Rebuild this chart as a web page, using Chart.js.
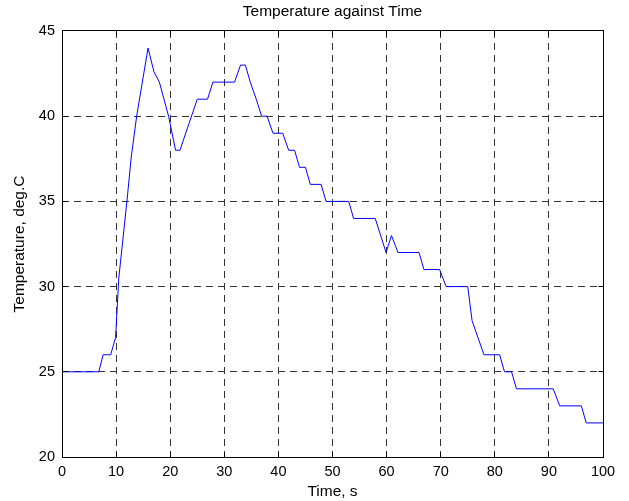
<!DOCTYPE html>
<html>
<head>
<meta charset="utf-8">
<title>Temperature against Time</title>
<script src="https://cdn.jsdelivr.net/npm/chart.js@4/dist/chart.umd.min.js"></script>
<style>
  body { margin: 0; background: #fff; }
  canvas { display: block; }
</style>
</head>
<body>
<canvas id="temp-chart" width="629" height="501"></canvas>
<script>
// time (s) and temperature (deg.C)
const timeValues = [0, 6.8, 7.6, 9.0, 9.9, 10.5, 12.0, 12.8, 13.8, 15.9,
    17.0, 18.0, 19.7, 21.0, 21.8, 25.0, 26.9, 27.9, 31.9, 33.0,
    33.9, 34.8, 35.9, 36.9, 37.9, 39.0, 40.8, 41.9, 43.0, 43.9,
    45.0, 45.9, 47.9, 48.8, 53.0, 53.9, 57.9, 59.9, 60.9, 62.1,
    66.0, 66.9, 69.8, 71.0, 75.0, 75.8, 78.0, 80.9, 81.8, 83.1,
    84.0, 90.8, 92.0, 96.0, 96.9, 100];
const temperatureValues = [25, 25, 26, 26, 27, 30.5, 35, 37.6, 40, 44,
    42.6, 42, 40, 38, 38, 41, 41, 42, 42, 43,
    43, 42, 41, 40, 40, 39, 39, 38, 38, 37,
    37, 36, 36, 35, 35, 34, 34, 32, 33, 32,
    32, 31, 31, 30, 30, 28, 26, 26, 25, 25,
    24, 24, 23, 23, 22, 22];
const xTicks = [0, 10, 20, 30, 40, 50, 60, 70, 80, 90, 100];
const yTicks = [20, 25, 30, 35, 40, 45];

const fontFamily = "'Liberation Sans', Arial, Helvetica, sans-serif";

// MATLAB style box with inward tick marks on all four sides
const boxPlugin = {
    id: 'box',
    afterDraw(chart) {
        const { ctx, chartArea: a, scales } = chart;
        const align = (p) => Math.round(p - 0.5) + 0.5;
        const left = align(a.left), right = align(a.right);
        const top = align(a.top), bottom = align(a.bottom);
        const len = 5;
        ctx.save();
        ctx.strokeStyle = '#000';
        ctx.lineWidth = 1;
        ctx.beginPath();
        xTicks.forEach((v) => {
            const px = align(scales.x.getPixelForValue(v));
            ctx.moveTo(px, bottom); ctx.lineTo(px, bottom - len);
            ctx.moveTo(px, top); ctx.lineTo(px, top + len);
        });
        yTicks.forEach((v) => {
            const py = align(scales.y.getPixelForValue(v));
            ctx.moveTo(left, py); ctx.lineTo(left + len, py);
            ctx.moveTo(right, py); ctx.lineTo(right - len, py);
        });
        ctx.stroke();
        ctx.strokeRect(left, top, right - left, bottom - top);
        ctx.restore();
    }
};

const points = timeValues.map((t, i) => ({ x: t, y: temperatureValues[i] }));

new Chart(document.getElementById('temp-chart').getContext('2d'), {
    type: 'line',
    data: {
        datasets: [{
            data: points,
            borderColor: '#0000ff',
            borderWidth: 1,
            pointRadius: 0,
            tension: 0,
            fill: false
        }]
    },
    options: {
        responsive: false,
        animation: false,
        devicePixelRatio: 1,
        layout: { padding: { left: 0, right: 26, top: 0, bottom: 0 } },
        plugins: {
            legend: { display: false },
            tooltip: { enabled: false },
            title: {
                display: true,
                fullSize: false,
                text: 'Temperature against Time',
                color: '#000',
                font: { family: fontFamily, size: 15.5, weight: 'normal', lineHeight: 1.2 },
                padding: { top: 2.2, bottom: 10.2 }
            }
        },
        scales: {
            x: {
                type: 'linear',
                min: 0,
                max: 100,
                afterBuildTicks: (scale) => { scale.ticks = xTicks.map((v) => ({ value: v })); },
                afterFit: (scale) => { scale.height = 44; },
                ticks: {
                    color: '#000',
                    padding: 6,
                    maxRotation: 0,
                    font: { family: fontFamily, size: 14.5 }
                },
                grid: { color: '#333', lineWidth: 1, drawTicks: false },
                border: { display: false, dash: [7, 5] },
                title: {
                    display: true,
                    text: 'Time, s',
                    color: '#000',
                    font: { family: fontFamily, size: 15.5 },
                    padding: { top: 0, bottom: 0 }
                }
            },
            y: {
                type: 'linear',
                min: 20,
                max: 45,
                afterBuildTicks: (scale) => { scale.ticks = yTicks.map((v) => ({ value: v })); },
                afterFit: (scale) => { scale.width = 62; },
                ticks: {
                    color: '#000',
                    padding: 7,
                    font: { family: fontFamily, size: 14.5 }
                },
                grid: { color: '#333', lineWidth: 1, drawTicks: false },
                border: { display: false, dash: [7, 5] },
                title: {
                    display: true,
                    text: 'Temperature, deg.C',
                    color: '#000',
                    font: { family: fontFamily, size: 15.5 },
                    padding: { top: 10, bottom: 0 }
                }
            }
        }
    },
    plugins: [boxPlugin]
});
</script>
</body>
</html>
